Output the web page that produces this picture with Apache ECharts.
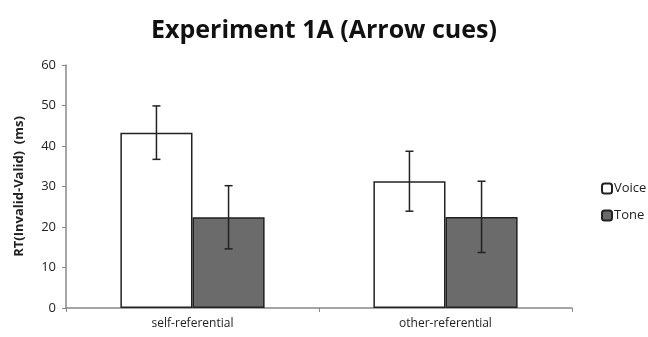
<!DOCTYPE html>
<html>
<head>
<meta charset="utf-8">
<script src="https://cdn.jsdelivr.net/npm/echarts@6/dist/echarts.min.js"></script>
<style>
  html, body { margin: 0; padding: 0; background: #fff; }
  #main { width: 648px; height: 337px; }
</style>
</head>
<body>
<div id="main"></div>
<script>
// data
const categories = ['self-referential', 'other-referential'];
const voiceMeans = [43.3, 31.3];
const voiceErr = [6.6, 7.4];
const toneMeans = [22.4, 22.5];
const toneErr = [7.8, 8.8];
const yTicks = [0, 10, 20, 30, 40, 50, 60];

const chart = echarts.init(document.getElementById('main'));
const catGap = 0.43;

// error bars drawn at the bar centres
function errorSeries(name, means, errs, side) {
  return {
    name: name + ' err',
    type: 'custom',
    z: 10,
    data: means.map((m, i) => [i, m - errs[i], m + errs[i]]),
    renderItem: function (params, api) {
      const band = api.size([1, 0])[0];
      const barW = band * (1 - catGap) / 2;
      const lo = api.coord([api.value(0), api.value(1)]);
      const hi = api.coord([api.value(0), api.value(2)]);
      const x = lo[0] + side * barW / 2;
      const cap = 4;
      const style = { stroke: '#222', lineWidth: 1.5 };
      return {
        type: 'group',
        children: [
          { type: 'line', shape: { x1: x, y1: lo[1], x2: x, y2: hi[1] }, style: style },
          { type: 'line', shape: { x1: x - cap, y1: lo[1], x2: x + cap, y2: lo[1] }, style: style },
          { type: 'line', shape: { x1: x - cap, y1: hi[1], x2: x + cap, y2: hi[1] }, style: style }
        ]
      };
    }
  };
}

const option = {
  animation: false,
  title: {
    text: 'Experiment 1A (Arrow cues)',
    left: 'center',
    top: 13,
    textStyle: { fontFamily: 'Open Sans', fontWeight: 'bold', fontSize: 25, color: '#111' }
  },
  legend: {
    orient: 'vertical',
    left: 596,
    top: 177,
    itemWidth: 10,
    itemHeight: 10,
    itemGap: 14,
    data: ['Voice', 'Tone'],
    textStyle: { fontFamily: 'Open Sans', fontSize: 13, color: '#222', padding: [0, 0, 0, -3] }
  },
  grid: { left: 66, right: 76, top: 65, bottom: 29 },
  xAxis: {
    type: 'category',
    data: categories,
    axisLine: { lineStyle: { color: '#888', width: 1.5 } },
    axisTick: { show: true, length: 4, lineStyle: { color: '#888' } },
    axisLabel: { fontFamily: 'Open Sans', fontSize: 12, color: '#222', margin: 10 }
  },
  yAxis: {
    type: 'value',
    min: yTicks[0],
    max: yTicks[yTicks.length - 1],
    interval: 10,
    name: 'RT(Invalid-Valid)  (ms)',
    nameLocation: 'middle',
    nameGap: 40,
    nameTextStyle: { fontFamily: 'Open Sans', fontWeight: 'bold', fontSize: 13, color: '#222' },
    axisLine: { show: true, lineStyle: { color: '#888', width: 1.5 } },
    axisTick: { show: true, length: 4, lineStyle: { color: '#888' } },
    splitLine: { show: false },
    axisLabel: { fontFamily: 'Open Sans', fontSize: 13, color: '#222', margin: 10 }
  },
  series: [
    {
      name: 'Voice',
      type: 'bar',
      data: voiceMeans,
      barGap: '0%',
      barCategoryGap: (catGap * 100) + '%',
      itemStyle: { color: '#fff', borderColor: '#222', borderWidth: 1.5 }
    },
    {
      name: 'Tone',
      type: 'bar',
      data: toneMeans,
      itemStyle: { color: '#6b6b6b', borderColor: '#222', borderWidth: 1.5 }
    },
    errorSeries('Voice', voiceMeans, voiceErr, -1),
    errorSeries('Tone', toneMeans, toneErr, 1)
  ]
};

chart.setOption(option);
</script>
</body>
</html>
